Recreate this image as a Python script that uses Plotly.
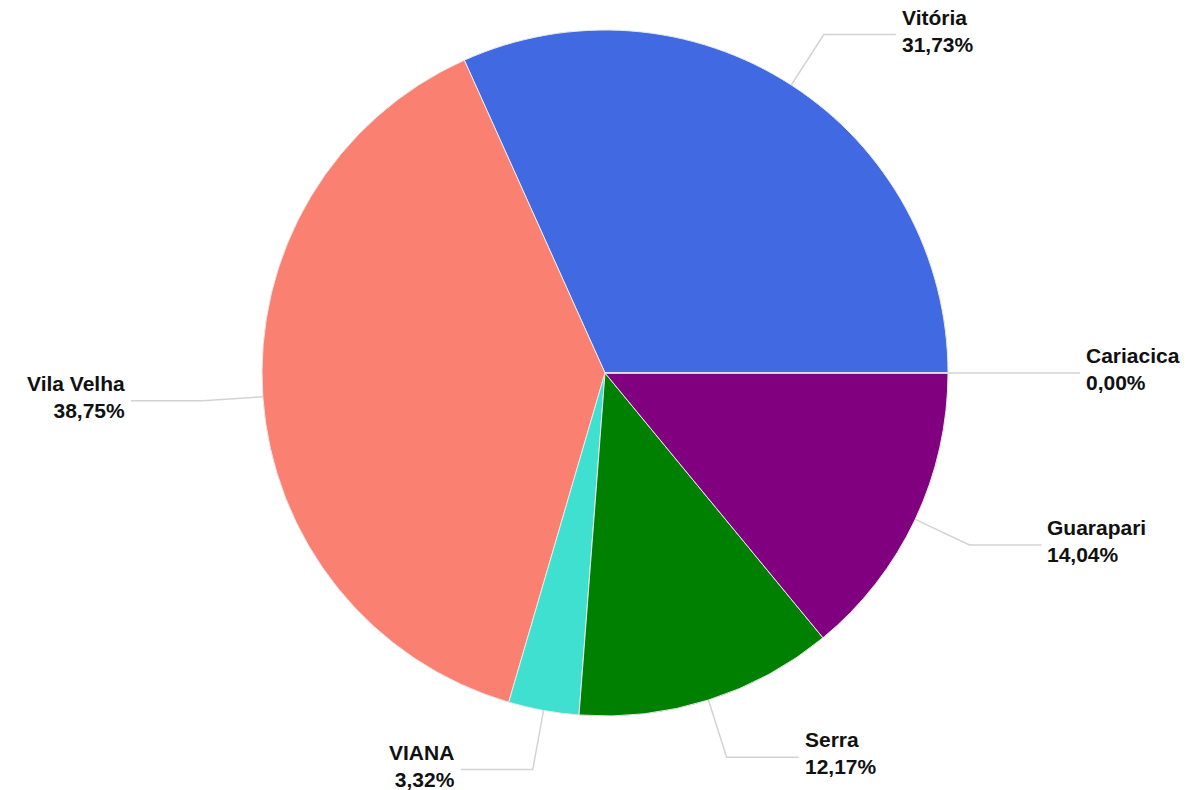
import math
import plotly.graph_objects as go

labels = ["Vitória", "Vila Velha", "VIANA", "Serra", "Guarapari", "Cariacica"]
values = [31.73, 38.75, 3.32, 12.17, 14.04, 0.00]
pct_text = ["31,73%", "38,75%", "3,32%", "12,17%", "14,04%", "0,00%"]
colors = ["#4169E1", "#FA8072", "#40E0D0", "#008000", "#800080", "#FFA500"]

W, H = 1196, 790
CX, CY, R = 605, 373, 343
ELBOW = 1.175
HLEN = 72
GAP = 4


def px(x):
    return x / W


def py(y):
    return 1 - y / H


total = sum(values)
# plotly (counterclockwise) places the first slice clockwise of `rotation`;
# shift so that the first slice starts at 3 o'clock going counterclockwise.
rotation = 90 - values[0] / total * 360

fig = go.Figure(go.Pie(
    labels=labels,
    values=values,
    sort=False,
    direction="counterclockwise",
    rotation=rotation,
    textinfo="none",
    hoverinfo="label+percent",
    marker=dict(colors=colors, line=dict(color="#e8e8e8", width=1)),
    domain=dict(x=[px(CX - R), px(CX + R)], y=[py(CY + R), py(CY - R)]),
    showlegend=False,
))

shapes = []
annotations = []
start = 0.0
for lab, v, t in zip(labels, values, pct_text):
    frac = v / total
    mid = (start + frac / 2) * 2 * math.pi
    start += frac
    c, s = math.cos(mid), math.sin(mid)
    ex, ey = CX + R * c, CY - R * s
    bx, by = CX + R * ELBOW * c, CY - R * ELBOW * s
    right = c >= -1e-9
    hx = bx + HLEN if right else bx - HLEN
    path = f"M {px(ex)},{py(ey)} L {px(bx)},{py(by)} L {px(hx)},{py(by)}"
    shapes.append(dict(type="path", xref="paper", yref="paper", path=path,
                       line=dict(color="#d3d3d3", width=1.5)))
    annotations.append(dict(
        xref="paper", yref="paper",
        x=px(hx + GAP if right else hx - GAP), y=py(by),
        xanchor="left" if right else "right", yanchor="middle",
        align="left" if right else "right", yshift=4,
        text=f"<b>{lab}<br>{t}</b>", showarrow=False,
        font=dict(family="Liberation Sans, Arial, sans-serif", size=21, color="#111111"),
    ))

fig.update_layout(
    width=W, height=H,
    margin=dict(l=0, r=0, t=0, b=0),
    paper_bgcolor="white", plot_bgcolor="white",
    shapes=shapes, annotations=annotations,
)

fig.write_html("out.html", config={"displayModeBar": False},
               post_script="document.body.style.margin='0';")
